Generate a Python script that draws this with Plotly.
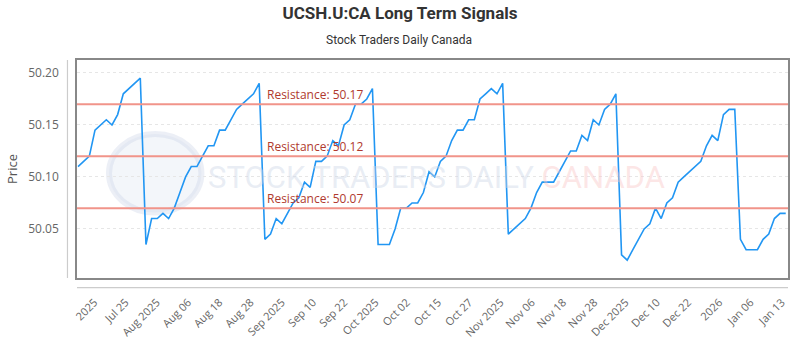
import numpy as np
import plotly.graph_objects as go

# ---- data ----
prices = [
    50.110, 50.115, 50.120, 50.145, 50.150, 50.155, 50.150, 50.160, 50.180, 50.185,
    50.190, 50.195, 50.035, 50.060, 50.060, 50.065, 50.060, 50.070, 50.085, 50.100,
    50.110, 50.110, 50.120, 50.130, 50.130, 50.145, 50.145, 50.155, 50.165, 50.170,
    50.175, 50.180, 50.190, 50.040, 50.045, 50.060, 50.055, 50.065, 50.075, 50.080,
    50.095, 50.090, 50.115, 50.115, 50.120, 50.135, 50.130, 50.150, 50.155, 50.170,
    50.170, 50.175, 50.185, 50.035, 50.035, 50.035, 50.050, 50.070, 50.070, 50.075,
    50.075, 50.085, 50.105, 50.100, 50.115, 50.120, 50.135, 50.145, 50.145, 50.155,
    50.155, 50.175, 50.180, 50.185, 50.180, 50.190, 50.045, 50.050, 50.055, 50.060,
    50.070, 50.085, 50.095, 50.095, 50.095, 50.105, 50.115, 50.125, 50.125, 50.140,
    50.135, 50.155, 50.150, 50.165, 50.170, 50.180, 50.025, 50.020, 50.030, 50.040,
    50.050, 50.055, 50.070, 50.060, 50.075, 50.080, 50.095, 50.100, 50.105, 50.110,
    50.115, 50.130, 50.140, 50.135, 50.160, 50.165, 50.165, 50.040, 50.030, 50.030,
    50.030, 50.040, 50.045, 50.060, 50.065, 50.065,
]
tick_labels = [
    "2025", "Jul 25", "Aug 2025", "Aug 06", "Aug 18", "Aug 28", "Sep 2025",
    "Sep 10", "Sep 22", "Oct 2025", "Oct 02", "Oct 15", "Oct 27", "Nov 2025",
    "Nov 06", "Nov 18", "Nov 28", "Dec 2025", "Dec 10", "Dec 22", "2026",
    "Jan 06", "Jan 13",
]
resistance_levels = [50.17, 50.12, 50.07]
y_ticks = [50.05, 50.10, 50.15, 50.20]

x_idx = list(range(len(prices)))
tickvals = list(np.linspace(2.9, 124.3, len(tick_labels)))

fig = go.Figure()
fig.add_trace(go.Scatter(
    x=x_idx, y=prices, mode="lines",
    line=dict(color="#2196f3", width=1.6),
    hoverinfo="skip", showlegend=False,
))

# resistance lines
for lvl in resistance_levels:
    fig.add_shape(type="line", xref="paper", x0=0, x1=1, yref="y", y0=lvl, y1=lvl,
                  line=dict(color="#f1948a", width=2), layer="above")
    fig.add_annotation(x=33.0, y=lvl, xref="x", yref="y", text=f"Resistance: {lvl:.2f}",
                       showarrow=False, xanchor="left", yanchor="bottom", yshift=-1,
                       font=dict(family="Open Sans", size=12, color="#b03a2e"))

# watermark
fig.add_shape(type="circle", xref="paper", yref="paper",
              x0=0.045, x1=0.175, y0=0.30, y1=0.66,
              line=dict(color="rgba(200,210,230,0.35)", width=6),
              fillcolor="rgba(220,228,240,0.35)", layer="below")
fig.add_annotation(x=0.505, y=0.46, xref="paper", yref="paper", showarrow=False,
                   text="<span style='color:rgba(205,215,232,0.45)'>STOCK TRADERS DAILY</span> "
                        "<span style='color:rgba(250,200,200,0.45)'>CANADA</span>",
                   font=dict(family="Roboto", size=31))

# offset axis lines
fig.add_shape(type="line", xref="paper", yref="paper", x0=-0.0134, x1=-0.0134, y0=0, y1=1,
              line=dict(color="#cccccc", width=1.2))
fig.add_shape(type="line", xref="paper", yref="paper", x0=0, x1=1, y0=-0.044, y1=-0.044,
              line=dict(color="#cccccc", width=1.2))

fig.update_layout(
    width=800, height=350,
    margin=dict(l=77, r=10, t=60, b=64),
    paper_bgcolor="white", plot_bgcolor="white",
    title=dict(text="<b>UCSH.U:CA Long Term Signals</b>", x=0.5, xanchor="center",
               y=0.962, yanchor="middle",
               font=dict(family="Roboto", size=17, color="#333333")),
)
fig.add_annotation(text="Stock Traders Daily Canada", x=(400 - 77) / 713, xref="paper",
                   y=1.093, yref="paper", xanchor="center",
                   yanchor="middle", showarrow=False,
                   font=dict(family="Roboto", size=12, color="#333333"))

fig.update_xaxes(
    range=[-0.18, 125.4], tickmode="array", tickvals=tickvals, ticktext=tick_labels,
    tickangle=-45, ticks="outside", ticklen=12, tickcolor="rgba(0,0,0,0)",
    tickfont=dict(family="Open Sans", size=11, color="#666666"),
    showgrid=False, zeroline=False,
    showline=True, mirror=True, linecolor="#888888", linewidth=1.5,
)
fig.update_yaxes(
    range=[50.0028, 50.2125], tickmode="array", tickvals=y_ticks,
    ticktext=[f"{v:.2f}" for v in y_ticks],
    ticks="outside", ticklen=14, tickcolor="rgba(0,0,0,0)",
    tickfont=dict(family="Open Sans", size=12, color="#666666"),
    showgrid=True, gridcolor="#e6e6e6", griddash="dot", gridwidth=1,
    zeroline=False,
    showline=True, mirror=True, linecolor="#888888", linewidth=1.5,
    title=dict(text="Price", font=dict(family="Open Sans", size=13, color="#555555"), standoff=8),
)

fig.write_html("out.html")
